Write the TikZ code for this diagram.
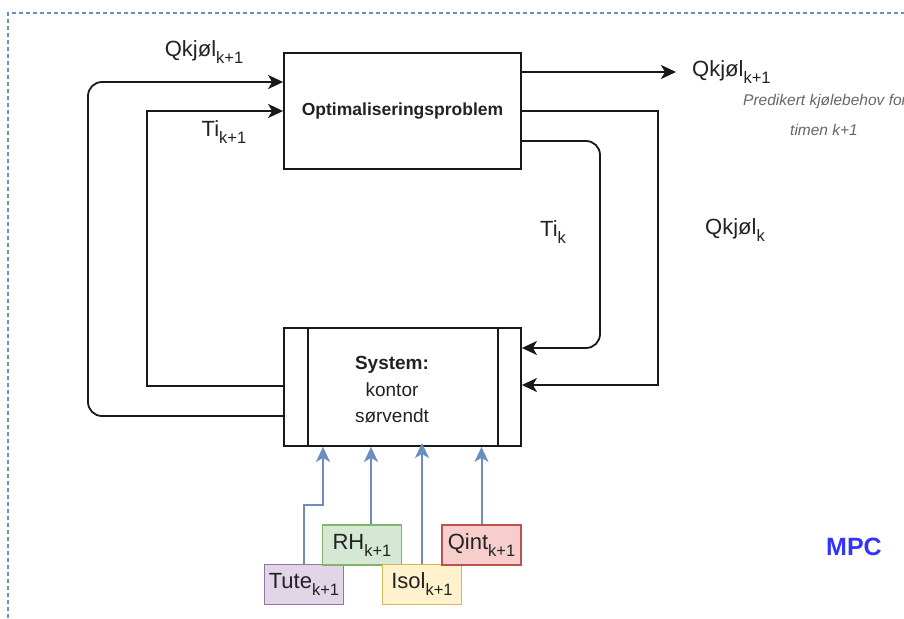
\documentclass[tikz,border=0pt]{standalone}
\usepackage{fontspec}
\setmainfont{Liberation Sans}
\usetikzlibrary{arrows.meta}
\definecolor{bline}{HTML}{6C8EBF}
\definecolor{pfill}{HTML}{E1D5E7}\definecolor{pdraw}{HTML}{9673A6}
\definecolor{gfill}{HTML}{D5E8D4}\definecolor{gdraw}{HTML}{82B366}
\definecolor{yfill}{HTML}{FFF2CC}\definecolor{ydraw}{HTML}{D6B656}
\definecolor{rfill}{HTML}{F8CECC}\definecolor{rdraw}{HTML}{B85450}
\definecolor{txt}{HTML}{222222}
\definecolor{mpcblue}{HTML}{3333FF}
\newcommand{\lsub}[1]{\raisebox{-0.32em}{\fontsize{16.5}{16.5}\selectfont #1}}
\tikzset{
  blk/.style={draw=black!90, line width=1.8pt, rectangle, inner sep=0pt},
  conn/.style={draw=black!90, line width=1.8pt, -{Stealth[length=15pt,width=14pt,inset=4pt]}},
  bconn/.style={draw=bline, line width=2pt, -{Stealth[length=15pt,width=14pt,inset=4pt]}},
  lbl/.style={text=txt, font=\fontsize{22}{24}\selectfont, inner sep=0pt},
  inbox/.style={line width=1.6pt, rectangle, minimum width=79pt, minimum height=40pt, inner sep=0pt, text=txt, font=\fontsize{22}{24}\selectfont},
}
\begin{document}
\begin{tikzpicture}[x=1pt,y=-1pt]
\useasboundingbox (0,0) rectangle (904,618);
% dashed frame
\draw[bline, line width=1.3pt, dash pattern=on 4pt off 3pt] (8,618) -- (8,13) -- (904,13);
% main blocks
\node[blk, minimum width=237pt, minimum height=116pt, font=\bfseries\fontsize{17.5}{20}\selectfont, text=txt] (opt) at (402.5,111) {Optimaliseringsproblem};
\node[blk, minimum width=237pt, minimum height=118pt] (sys) at (402.5,387) {};
\draw[black!90, line width=1.8pt] (308,328) -- (308,446) (498,328) -- (498,446);
\node[text=txt, align=center, font=\fontsize{19}{26.5}\selectfont, inner sep=0pt] (systxt) at (392,390) {\textbf{System:}\\kontor\\sørvendt};
% output
\coordinate (outend) at (676,72);
\draw[conn] (opt.east |- 0,72) -- (outend);
\node[lbl, anchor=west] (qout) at (692,72) {Qkjøl\lsub{k+1}};
\node[text=gray!80!black, font=\itshape\fontsize{15.5}{17}\selectfont, inner sep=0pt, anchor=west] (pred1) at (743,101) {Predikert kjølebehov for};
\node[text=gray!80!black, font=\itshape\fontsize{15.5}{17}\selectfont, inner sep=0pt] (pred2) at (824,130) {timen k+1};
% feedback right
\draw[conn, rounded corners=14pt] (opt.east |- 0,141) -- (600,141) -- (600,348) -- (sys.east |- 0,348);
\draw[conn] (opt.east |- 0,111) -- (658,111) -- (658,385) -- (sys.east |- 0,385);
\node[lbl] (tik) at (553,232) {Ti\lsub{k}};
\node[lbl] (qk) at (735,230) {Qkjøl\lsub{k}};
% feedback left
\draw[conn, rounded corners=14pt] (sys.west |- 0,416) -- (88,416) -- (88,82) -- (opt.west |- 0,82);
\draw[conn] (sys.west |- 0,386) -- (147,386) -- (147,111) -- (opt.west |- 0,111);
\node[lbl] (qk1) at (204,52) {Qkjøl\lsub{k+1}};
\node[lbl] (ti1) at (224,132) {Ti\lsub{k+1}};
% inputs
\node[inbox, draw=pdraw, fill=pfill] (tute) at (304,584.5) {Tute\lsub{k+1}};
\node[inbox, draw=gdraw, fill=gfill] (rh) at (362,545) {RH\lsub{k+1}};
\node[inbox, draw=ydraw, fill=yfill] (isol) at (422,584.5) {Isol\lsub{k+1}};
\node[inbox, draw=rdraw, fill=rfill] (qint) at (481.5,545) {Qint\lsub{k+1}};
\draw[bconn] (tute.north) -- (304,505) -- (323,505) -- (sys.south -| 323,0);
\draw[bconn] (rh.north -| 371,0) -- (sys.south -| 371,0);
\draw[bconn] (isol.north) -- (422,443);
\draw[bconn] (qint.north) -- (sys.south -| 481.5,0);
% MPC
\node[text=mpcblue, font=\bfseries\fontsize{25}{27}\selectfont, inner sep=0pt] (mpc) at (854,547) {MPC};
\end{tikzpicture}
\end{document}
